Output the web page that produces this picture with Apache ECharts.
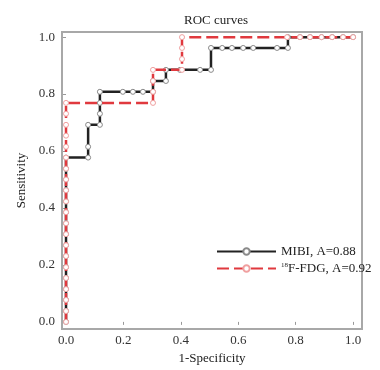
<!DOCTYPE html>
<html><head><meta charset="utf-8">
<script src="https://cdn.jsdelivr.net/npm/echarts@6/dist/echarts.min.js"></script>
<style>html,body{margin:0;padding:0;background:#fff}#c{width:380px;height:370px}</style>
</head><body><div id="c"></div>
<script>
const tickValues = [0, 0.2, 0.4, 0.6, 0.8, 1.0];
const seriesNames = ['MIBI, A=0.88', '18F-FDG, A=0.92'];
const mibiX = [0,0,0,0,0,0,0,0,0,0,0,0,0,0,0,0,
  0.077,0.077,0.077,
  0.118,0.118,0.118,0.118,
  0.198,0.233,0.268,0.303,
  0.303,0.348,0.348,
  0.397,0.467,0.505,
  0.505,0.544,0.578,0.617,0.652,0.735,0.773,
  0.773,0.815,0.85,0.89,0.927,0.965,1.0];
const mibiY = [0,0.038,0.077,0.115,0.154,0.192,0.231,0.269,0.308,0.346,0.385,0.423,0.462,0.5,0.538,0.577,
  0.577,0.615,0.692,
  0.692,0.731,0.769,0.808,
  0.808,0.808,0.808,0.808,
  0.846,0.846,0.885,
  0.885,0.885,0.885,
  0.962,0.962,0.962,0.962,0.962,0.962,0.962,
  1,1,1,1,1,1,1];
const fdgX = [0,0,0,0,0,0,0,0,0,0,0,0,0,0,0,0,0,0,0,0,0,
  0.303,0.303,0.303,0.303,
  0.404,0.404,0.404,0.404,
  0.77,0.815,0.85,0.89,0.927,0.965,1.0];
const fdgY = [0,0.038,0.077,0.115,0.154,0.192,0.231,0.269,0.308,0.346,0.385,0.423,0.462,0.5,0.538,0.577,0.615,0.654,0.692,0.731,0.769,
  0.769,0.808,0.846,0.885,
  0.885,0.923,0.962,1,
  1,1,1,1,1,1,1];

const pairs = (xs, ys) => xs.map((x, i) => [x, ys[i]]);
const font = 'Liberation Serif';
const chart = echarts.init(document.getElementById('c'));
chart.setOption({
  animation: false,
  title: {
    text: 'ROC curves', left: 211, top: 9, textAlign: 'center',
    textStyle: {fontFamily: font, fontSize: 13, fontWeight: 'normal', color: '#222'}
  },
  legend: {
    orient: 'vertical', left: 216, top: 245, padding: 0, itemWidth: 59, itemHeight: 8, itemGap: 4,
    textStyle: {fontFamily: font, fontSize: 13, color: '#222',
      rich: {sup: {fontSize: 7, fontFamily: font, color: '#222', padding: [0, 0, 6, 0]}, n: {fontFamily: font, fontSize: 13, color: '#222'}}},
    formatter: function (name) {
      if (name.indexOf('18F') === 0) return '{sup|18}{n|' + name.slice(2) + '}';
      return name;
    },
    data: seriesNames
  },
  grid: {left: 62, right: 18, top: 32, bottom: 41, show: true, borderColor: '#a8a8a8', borderWidth: 2, backgroundColor: '#fff'},
  xAxis: {
    type: 'value', min: -0.014, max: 1.031,
    name: '1-Specificity', nameLocation: 'middle', nameGap: 16,
    nameTextStyle: {fontFamily: font, fontSize: 13, color: '#222'},
    axisLine: {show: false}, splitLine: {show: false},
    axisTick: {show: true, customValues: tickValues, length: 3, lineStyle: {color: '#999'}},
    axisLabel: {customValues: tickValues, fontFamily: font, fontSize: 13, color: '#333', margin: 5,
      formatter: v => v.toFixed(1)}
  },
  yAxis: {
    type: 'value', min: -0.025, max: 1.018,
    name: 'Sensitivity', nameLocation: 'middle', nameGap: 31,
    nameTextStyle: {fontFamily: font, fontSize: 13, color: '#222'},
    axisLine: {show: false}, splitLine: {show: false},
    axisTick: {show: true, customValues: tickValues, length: 3, lineStyle: {color: '#999'}},
    axisLabel: {customValues: tickValues, fontFamily: font, fontSize: 13, color: '#333', margin: 7,
      formatter: v => v.toFixed(1)}
  },
  series: [
    {
      name: seriesNames[0], type: 'line', data: pairs(mibiX, mibiY),
      symbol: 'circle', symbolSize: 5, showSymbol: true,
      lineStyle: {color: '#222', width: 2.5},
      itemStyle: {color: '#fff', borderColor: '#8a8a8a', borderWidth: 1},
      color: '#222', z: 2
    },
    {
      name: seriesNames[1], type: 'line', data: pairs(fdgX, fdgY),
      symbol: 'circle', symbolSize: 5, showSymbol: true,
      lineStyle: {color: '#e0393e', width: 2.5, type: [12, 5]},
      itemStyle: {color: '#fff', borderColor: '#f0a0a0', borderWidth: 1},
      color: '#e0393e', z: 3
    }
  ]
});
</script></body></html>
